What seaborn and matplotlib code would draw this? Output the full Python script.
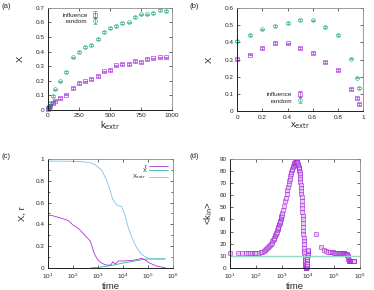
"""Four-panel figure: X vs k_extr, X vs x_extr, time evolution and <k_in>."""

import matplotlib

matplotlib.use("Agg")

import matplotlib.pyplot as plt  # noqa: E402
import numpy as np  # noqa: E402
import seaborn as sns  # noqa: E402

sns.set_style("ticks")
plt.rcParams["font.family"] = ["Liberation Sans", "DejaVu Sans"]
plt.rcParams.update({
    "xtick.direction": "in", "ytick.direction": "in",
    "xtick.top": True, "ytick.right": True,
    "xtick.major.size": 2.5, "ytick.major.size": 2.5,
    "xtick.minor.size": 1.5, "ytick.minor.size": 1.5,
    "xtick.major.width": 0.5, "ytick.major.width": 0.5,
    "xtick.minor.width": 0.5, "ytick.minor.width": 0.5,
    "xtick.labelsize": 4.6, "ytick.labelsize": 4.6,
    "xtick.major.pad": 2.5, "ytick.major.pad": 2.5,
    "axes.linewidth": 0.7, "axes.edgecolor": "#202020",
})

PURPLE = "#9400D3"
GREEN = "#009E73"
SKY = "#56B4E9"

# (a) X vs k_extr
k_extr = [5, 10, 20, 40, 60, 100, 150, 200, 250, 300, 350, 400, 450, 500,
          550, 600, 650, 700, 750, 800, 850, 900, 950]
a_influence = [0.005, 0.015, 0.03, 0.045, 0.064, 0.08, 0.105, 0.15, 0.184,
               0.195, 0.213, 0.23, 0.264, 0.275, 0.305, 0.317, 0.314, 0.335,
               0.326, 0.347, 0.353, 0.36, 0.36]
a_random = [0.02, 0.03, 0.045, 0.095, 0.14, 0.195, 0.26, 0.36, 0.395, 0.43,
            0.445, 0.485, 0.535, 0.56, 0.575, 0.595, 0.60, 0.635, 0.655,
            0.655, 0.665, 0.685, 0.68]
a_err = 0.006

# (b) X vs x_extr
x_extr = [0, 0.1, 0.2, 0.3, 0.4, 0.5, 0.6, 0.7, 0.8, 0.9, 0.95, 0.97]
b_influence = [0.304, 0.329, 0.368, 0.398, 0.394, 0.366, 0.339, 0.288, 0.24,
               0.129, 0.078, 0.043]
b_random = [0.409, 0.442, 0.476, 0.497, 0.515, 0.532, 0.528, 0.491, 0.444,
            0.306, 0.195, 0.136]
b_err = 0.005

# (c) time evolution of r, X, X_extr
c_time_r = [10, 15, 20, 30, 50, 70, 100, 150, 200, 300, 400, 500, 600, 700,
            850, 1000, 1300, 1900, 3000, 3500, 4000, 4500, 5100, 6500, 8000,
            12000, 20000, 30000, 45000, 56000, 76000, 120000, 220000, 400000,
            500000]
c_r = [0.485, 0.48, 0.472, 0.46, 0.445, 0.43, 0.395, 0.37, 0.345, 0.30, 0.27,
       0.245, 0.19, 0.14, 0.10, 0.075, 0.05, 0.03, 0.024, 0.035, 0.058, 0.045,
       0.037, 0.063, 0.064, 0.065, 0.068, 0.073, 0.082, 0.089, 0.075, 0.045,
       0.018, 0.006, 0.004]
c_time_x = [500, 1000, 2000, 3000, 5000, 10000, 20000, 30000, 50000, 76000,
            100000, 200000, 500000]
c_x = [0.0, 0.005, 0.014, 0.02, 0.03, 0.045, 0.057, 0.064, 0.073, 0.08,
       0.082, 0.083, 0.083]
c_time_xe = [10, 50, 100, 200, 300, 500, 760, 1000, 1400, 2200, 3000, 4000,
             5600, 7000, 9000, 12000, 16000, 22000, 35000, 56000, 90000,
             140000, 200000, 500000]
c_xextr = [0.98, 0.979, 0.978, 0.975, 0.972, 0.965, 0.948, 0.925, 0.90, 0.81,
           0.72, 0.625, 0.58, 0.57, 0.563, 0.49, 0.38, 0.29, 0.19, 0.125,
           0.095, 0.083, 0.082, 0.082]

# (d) <k_in> over time
d_time = [
    10, 20, 30, 40, 50, 60, 70, 80, 90,
    100, 125, 150, 175, 200, 225, 250, 275, 300, 325, 350, 375, 400, 425,
    450, 475, 500, 525, 550, 575, 600, 625, 650, 675, 700, 725, 750, 775,
    800, 825, 850, 875, 900, 925, 950, 975, 1000,
    1100, 1200, 1300, 1400, 1500, 1600, 1700, 1800, 1900, 2000,
    2100, 2200, 2300, 2400, 2500, 2600, 2700, 2800, 2900, 3000,
    3100, 3200, 3300, 3400, 3500, 3600, 3700, 3800, 3900, 4000,
    4100, 4200, 4300, 4400, 4500, 4600, 4700, 4800, 4900, 5000,
    5100, 5200, 5300, 5400, 5500, 5600, 5700, 5800, 5900, 6000,
    6100, 6200, 6300, 6400, 6500, 6600, 6700, 6800, 6900, 7000,
    7100, 7200, 7300, 7400, 7500, 7600, 7700, 7800, 7900, 8000,
    8100, 8200, 8300, 8400, 8500, 8600, 8700, 8800, 8900, 9000,
    9100, 9200, 9300, 9400, 9500, 9600, 9700, 9800, 9900, 10000,
    20000, 30000, 40000, 50000, 60000, 70000, 80000, 90000, 100000,
    110000, 120000, 130000, 140000, 150000, 160000, 170000, 180000, 190000,
    200000, 210000, 220000, 230000, 240000, 250000, 260000, 270000, 280000,
    290000, 300000, 310000, 320000, 330000, 340000, 350000, 360000, 370000,
    380000, 390000, 400000, 410000, 420000, 430000, 440000, 450000, 460000,
    470000, 480000, 490000, 500000, 510000, 520000, 530000, 540000, 550000,
    560000, 570000, 580000,
]
d_kin = [
    12.0, 12.0, 12.0, 12.0, 12.0, 12.0, 12.0, 12.1, 12.2,
    12.3, 12.6, 13.0, 13.4, 14.0, 14.6, 15.3, 16.1, 17.0, 17.9, 18.8, 19.9,
    21.0, 22.0, 23.0, 24.0, 25.0, 26.0, 27.0, 28.0, 29.0, 30.0, 31.0, 32.0,
    33.1, 34.1, 35.1, 36.0, 37.0, 38.0, 39.0, 40.1, 41.1, 42.1, 43.0, 44.0,
    45.0,
    48.0, 51.5, 55.0, 58.0, 61.0, 64.0, 66.5, 69.0, 71.5, 73.5,
    75.5, 77.5, 79.0, 80.5, 82.0, 83.0, 84.0, 85.0, 85.8, 86.4,
    86.9, 87.3, 87.6, 87.8, 87.8, 87.7, 87.5, 87.1, 86.6, 86.0,
    85.3, 84.5, 83.6, 82.6, 81.5, 80.2, 78.8, 77.2, 75.4, 73.4,
    71.2, 68.8, 66.3, 63.7, 61.0, 58.2, 55.3, 52.3, 49.3, 46.2,
    43.1, 40.0, 36.9, 33.8, 30.8, 27.8, 24.9, 22.1, 19.4, 16.8,
    14.4, 12.1, 10.0, 8.0, 6.2, 4.6, 3.2, 2.1, 1.3, 0.7,
    0.3, 0.1, 0.0, 0.0, 0.1, 0.4, 0.9, 1.6, 2.5, 3.6,
    4.9, 6.3, 7.8, 9.2, 10.5, 11.7, 12.7, 13.6, 14.3, 14.9,
    28.0, 17.6, 14.6, 13.6, 13.2, 13.0, 12.9, 12.8, 12.7,
    12.6, 12.6, 12.5, 12.5, 12.4, 12.4, 12.3, 12.3, 12.2,
    12.2, 12.1, 12.1, 12.0, 12.0, 12.0, 11.9, 11.8, 11.7,
    11.5, 11.3, 11.0, 10.6, 10.0, 9.0, 7.8, 6.8, 6.1,
    5.8, 5.7, 5.6, 5.6, 5.6, 5.5, 5.5, 5.5, 5.5,
    5.5, 5.5, 5.5, 5.5, 5.5, 5.5, 5.5, 5.5, 5.5,
    5.5, 5.5, 5.5,
]
d_ref_time = [10, 1000000]
d_ref_k = [10, 10]


def _frame(ax):
    for side in ("top", "right"):
        ax.spines[side].set_color("#8a8a8a")
        ax.spines[side].set_linewidth(0.6)
    ax.minorticks_off()


def _errpanel(ax, x, y_inf, y_rand, err):
    ax.errorbar(x, y_inf, yerr=err, fmt="s", ms=2.7, mfc="none", mec=PURPLE,
                mew=0.45, ecolor=PURPLE, elinewidth=0.45, capsize=1.1,
                capthick=0.45, color=PURPLE, label="influence", clip_on=False,
                alpha=0.8)
    ax.errorbar(x, y_rand, yerr=err, fmt="o", ms=2.7, mfc="none", mec=GREEN,
                mew=0.45, ecolor=GREEN, elinewidth=0.45, capsize=1.1,
                capthick=0.45, color=GREEN, label="random", clip_on=False,
                alpha=0.8)


fig = plt.figure(figsize=(3.74, 2.90), dpi=100)
ax_a = fig.add_axes([0.128, 0.621, 0.332, 0.352])
ax_b = fig.add_axes([0.634, 0.617, 0.337, 0.355])
ax_c = fig.add_axes([0.128, 0.076, 0.334, 0.376])
ax_d = fig.add_axes([0.615, 0.076, 0.348, 0.376])

# (a)
_errpanel(ax_a, k_extr, a_influence, a_random, a_err)
ax_a.set_xlim(0, 1000)
ax_a.set_ylim(0, 0.7)
ax_a.set_xticks([0, 250, 500, 750, 1000])
ax_a.set_yticks(np.arange(0, 0.71, 0.1))
ax_a.set_yticklabels(["0", "0.1", "0.2", "0.3", "0.4", "0.5", "0.6", "0.7"])
ax_a.set_xlabel("k$_{\\mathrm{extr}}$", fontsize=6.8, labelpad=1)
ax_a.set_ylabel("X", fontsize=6.8, rotation=90, labelpad=8)
ax_a.legend(loc="upper left", bbox_to_anchor=(0.08, 1.0), frameon=False,
            fontsize=4.6, markerfirst=False, handlelength=1.6,
            labelspacing=0.15, handletextpad=0.4, borderpad=0.2)
_frame(ax_a)

# (b)
_errpanel(ax_b, x_extr, b_influence, b_random, b_err)
ax_b.set_xlim(0, 1)
ax_b.set_ylim(0, 0.6)
ax_b.set_xticks([0, 0.2, 0.4, 0.6, 0.8, 1])
ax_b.set_xticklabels(["0", "0.2", "0.4", "0.6", "0.8", "1"])
ax_b.set_yticks(np.arange(0, 0.61, 0.1))
ax_b.set_yticklabels(["0", "0.1", "0.2", "0.3", "0.4", "0.5", "0.6"])
ax_b.set_xlabel("x$_{\\mathrm{extr}}$", fontsize=6.8, labelpad=1)
ax_b.set_ylabel("X", fontsize=6.8, labelpad=8)
ax_b.legend(loc="lower left", bbox_to_anchor=(0.2, 0.03), frameon=False,
            fontsize=4.6, markerfirst=False, handlelength=1.6,
            labelspacing=0.15, handletextpad=0.4, borderpad=0.2)
_frame(ax_b)

# (c)
sns.lineplot(x=c_time_r, y=c_r, ax=ax_c, color=PURPLE, lw=0.6, alpha=0.8,
             label="r")
sns.lineplot(x=c_time_x, y=c_x, ax=ax_c, color=GREEN, lw=0.6, alpha=0.8,
             label="X")
sns.lineplot(x=c_time_xe, y=c_xextr, ax=ax_c, color=SKY, lw=0.6, alpha=0.8,
             label="X$_{\\mathrm{extr}}$")
ax_c.set_xscale("log")
ax_c.set_xlim(10, 1e6)
ax_c.set_ylim(0, 1)
ax_c.set_xticks([1e1, 1e2, 1e3, 1e4, 1e5, 1e6])
ax_c.set_yticks([0, 0.2, 0.4, 0.6, 0.8, 1])
ax_c.set_yticklabels(["0", "0.2", "0.4", "0.6", "0.8", "1"])
ax_c.set_xlabel("time", fontsize=6.8, labelpad=1)
ax_c.set_ylabel("X, r", fontsize=6.8, labelpad=6)
leg = ax_c.legend(loc="upper right", frameon=False, fontsize=4.2,
                  markerfirst=False, handlelength=3.2, labelspacing=-0.1,
                  handletextpad=0.5, borderpad=0.3)
for txt in leg.get_texts():
    txt.set_ha("right")
_frame(ax_c)
ax_c.set_yticks([0.1, 0.3, 0.5, 0.7, 0.9], minor=True)

# (d)
sns.lineplot(x=d_ref_time, y=d_ref_k, ax=ax_d, color="#9ad6c6", lw=1.0)
sns.scatterplot(x=d_time, y=d_kin, ax=ax_d, marker="s", s=5.5,
                facecolor="#e3bff4", edgecolor=PURPLE, linewidth=0.4,
                alpha=0.8, clip_on=False)
ax_d.set_xscale("log")
ax_d.set_xlim(10, 1e6)
ax_d.set_ylim(0, 90)
ax_d.set_xticks([1e1, 1e2, 1e3, 1e4, 1e5, 1e6])
ax_d.set_yticks(np.arange(0, 91, 10))
ax_d.set_xlabel("time", fontsize=6.8, labelpad=1)
ax_d.set_ylabel("<k$_{\\mathrm{in}}$>", fontsize=6.8, labelpad=3)
_frame(ax_d)

for ax in (ax_c, ax_d):
    ax.xaxis.set_minor_locator(matplotlib.ticker.NullLocator())

for label, (px, py) in zip(["(a)", "(b)", "(c)", "(d)"],
                           [(1, 6), (189, 6), (1, 156), (189, 156)]):
    fig.text(px / 374, 1 - py / 290, label, fontsize=5.6, va="center")

fig.savefig("out.png", dpi=100)
